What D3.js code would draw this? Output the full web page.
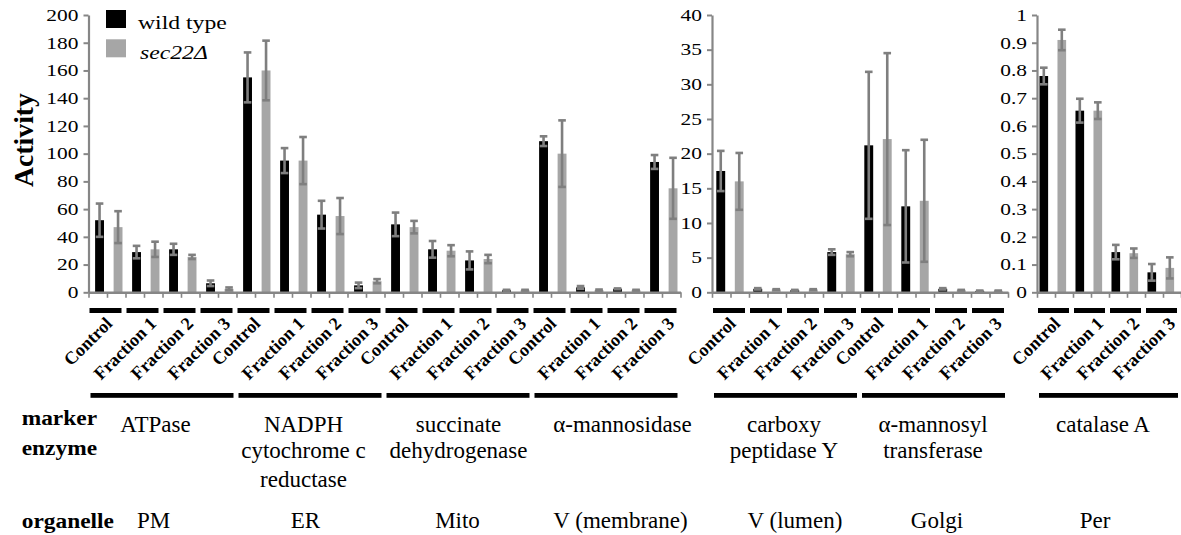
<!DOCTYPE html>
<html><head><meta charset="utf-8">
<script src="https://cdn.jsdelivr.net/npm/d3@7"></script>
<style>
html,body{margin:0;padding:0;background:#fff;}
svg{display:block;}
</style></head>
<body><svg id="chart" width="1181" height="535" font-family="Liberation Serif, Times New Roman, serif"></svg>
<script>
// ---- data ----
const fractions = ["Control", "Fraction 1", "Fraction 2", "Fraction 3"];
const seriesNames = ["wild type", "sec22Δ"];
const enzymeLines = [
  ["ATPase"],
  ["NADPH", "cytochrome c", "reductase"],
  ["succinate", "dehydrogenase"],
  ["α-mannosidase"],
  ["carboxy", "peptidase Y"],
  ["α-mannosyl", "transferase"],
  ["catalase A"]
];
const organelles = ["PM", "ER", "Mito", "V (membrane)", "V (lumen)", "Golgi", "Per"];

// ATPase, NADPH cyt c reductase, succinate DH, α-mannosidase (Control, F1, F2, F3 each)
const wildA    = [52, 29, 31, 6.5,  155, 95, 56, 5,   49, 31, 23, 1.5,  109, 3.5, 2.5, 94];
const wildAErr = [12, 4.5, 4, 2,    18, 9, 10, 2,     8.5, 6, 6.5, 0.3, 3.5, 1, 0.3, 5];
const secA     = [47, 31, 25.5, 2.5, 160, 95, 55, 8,  47, 30, 24, 1.5,  100, 1.5, 1.5, 75];
const secAErr  = [11.5, 5.5, 1.5, 1, 21.5, 17, 13, 1.5, 4.5, 4, 3, 0.3, 24, 0.5, 0.3, 22];

// carboxypeptidase Y, α-mannosyltransferase
const wildB    = [17.5, 0.5, 0.3, 5.8,  21.2, 12.4, 0.5, 0.2];
const wildBErr = [2.9, 0.1, 0.05, 0.4,  10.6, 8.1, 0.1, 0.05];
const secB     = [16, 0.4, 0.4, 5.5,    22.1, 13.2, 0.3, 0.2];
const secBErr  = [4.1, 0.05, 0.05, 0.3, 12.4, 8.8, 0.05, 0.05];

// catalase A
const wildC    = [0.78, 0.655, 0.145, 0.072];
const wildCErr = [0.03, 0.043, 0.026, 0.03];
const secC     = [0.91, 0.655, 0.141, 0.088];
const secCErr  = [0.037, 0.03, 0.017, 0.038];

const ticksA = [0, 20, 40, 60, 80, 100, 120, 140, 160, 180, 200];
const ticksB = [0, 5, 10, 15, 20, 25, 30, 35, 40];
const ticksC = [0, 0.1, 0.2, 0.3, 0.4, 0.5, 0.6, 0.7, 0.8, 0.9, 1];

// ---- layout ----
const svg = d3.select("#chart");
const yTop = 15, yBase = 292.3;
const AXIS = "#868686", ERR = "#7f7f7f", GREY = "#a6a6a6";
const colors = ["#000000", GREY];

const panels = [
  {x0: 88.5, groupW: 37, sets: [0, 1, 2, 3], ticks: ticksA, vals: [wildA, secA], errs: [wildAErr, secAErr], dx: 1.8},
  {x0: 712,  groupW: 37, sets: [4, 5],       ticks: ticksB, vals: [wildB, secB], errs: [wildBErr, secBErr], dx: -0.5},
  {x0: 1037, groupW: 36, sets: [6],          ticks: ticksC, vals: [wildC, secC], errs: [wildCErr, secCErr], dx: -2.2}
];

const setCenters = [];

panels.forEach(p => {
  const n = p.sets.length * fractions.length;
  const x1 = p.x0 + n * p.groupW;
  const gx = d3.scaleBand().domain(d3.range(n)).range([p.x0, x1]).padding(0);
  const sx = d3.scaleBand().domain([0, 1]).range([0, gx.bandwidth()]).paddingInner(0.52).paddingOuter(0.26);
  const y = d3.scaleLinear().domain([0, p.ticks[p.ticks.length - 1]]).range([yBase, yTop]);
  const g = svg.append("g");

  // bars
  [0, 1].forEach(s => {
    g.selectAll(null).data(p.vals[s]).join("rect")
      .attr("x", (d, i) => gx(i) + sx(s) + p.dx)
      .attr("width", sx.bandwidth())
      .attr("y", d => y(d))
      .attr("height", d => yBase - y(d))
      .attr("fill", colors[s]);
  });

  // error bars
  [0, 1].forEach(s => {
    const hi = (d, i) => y(d + p.errs[s][i]);
    const lo = (d, i) => y(Math.max(0, d - p.errs[s][i]));
    const eg = g.selectAll(null).data(p.vals[s]).join("g")
      .attr("transform", (d, i) => `translate(${gx(i) + sx(s) + p.dx + sx.bandwidth() / 2},0)`)
      .attr("stroke", ERR).attr("stroke-width", 2.6);
    eg.append("line").attr("y1", hi).attr("y2", lo);
    eg.append("line").attr("x1", -3.8).attr("x2", 3.8).attr("y1", hi).attr("y2", hi);
    eg.append("line").attr("x1", -3.8).attr("x2", 3.8).attr("y1", lo).attr("y2", lo);
  });

  // y axis
  const ya = g.append("g").attr("transform", `translate(${p.x0},0)`)
    .call(d3.axisLeft(y).tickValues(p.ticks).tickSize(5).tickPadding(5).tickSizeOuter(0).tickFormat(d3.format("~g")));
  ya.attr("font-family", null).attr("font-size", null);
  ya.select(".domain").attr("stroke", AXIS).attr("stroke-width", 2.2);
  ya.selectAll(".tick line").attr("stroke", AXIS).attr("stroke-width", 2);
  ya.selectAll(".tick text")
    .attr("fill", "#000").attr("font-size", 16.5)
    .attr("transform", function () { return `translate(${d3.select(this).attr("x")},0) scale(1.3,1)`; })
    .attr("x", 0);

  // x axis with a tick at each bar slot boundary
  const xs = d3.scaleLinear().domain([0, 2 * n]).range([p.x0, x1]);
  const xa = g.append("g").attr("transform", `translate(0,${yBase})`)
    .call(d3.axisBottom(xs).tickValues(d3.range(2 * n + 1)).tickFormat("").tickSize(5.5).tickSizeOuter(0));
  xa.select(".domain").attr("stroke", AXIS).attr("stroke-width", 2.4);
  xa.selectAll(".tick line").attr("stroke", AXIS).attr("stroke-width", 1.6);

  // short bars and rotated fraction labels
  const cats = d3.range(n).map(i => fractions[i % fractions.length]);
  g.selectAll(null).data(cats).join("rect")
    .attr("x", (d, i) => gx(i) + 1).attr("width", p.groupW - 5)
    .attr("y", 308).attr("height", 5).attr("fill", "#000");

  g.selectAll(null).data(cats).join("text")
    .text(d => d)
    .attr("font-weight", "bold").attr("font-size", 18)
    .attr("text-anchor", "middle").attr("dy", "0.33em")
    .attr("transform", function (d, i) {
      const len = this.getComputedTextLength();
      const cx = gx(i) + p.groupW / 2 - 19;
      const cy = 316 + (len + 12.5) * 0.354;
      return `translate(${cx},${cy}) rotate(-45)`;
    });

  // long bars per enzyme
  p.sets.forEach((s, k) => {
    const a = gx(k * 4), b = gx(k * 4 + 3) + p.groupW;
    g.append("rect").attr("x", a + 2).attr("width", b - a - 5)
      .attr("y", 393).attr("height", 4.8).attr("fill", "#000");
    setCenters[s] = (a + b) / 2;
  });
});

// ---- y title ----
svg.append("text").text("Activity")
  .attr("font-weight", "bold").attr("font-size", 27.7).attr("text-anchor", "middle")
  .attr("transform", "translate(33.3,140) rotate(-90)");

// ---- legend ----
const leg = svg.append("g");
seriesNames.forEach((name, i) => {
  leg.append("rect").attr("x", 106).attr("y", i === 0 ? 10 : 39.3).attr("width", 20).attr("height", 18)
    .attr("fill", colors[i]);
  leg.append("text").text(name)
    .attr("font-size", 18.8).attr("font-style", i === 0 ? "normal" : "italic")
    .attr("transform", `translate(${i === 0 ? 138 : 140},${i === 0 ? 29.3 : 58.6}) scale(1.26,1)`);
});

// ---- marker enzyme / organelle rows ----
const enzymeDx = [-7, -7, 0, 16, -2, -1, -6];
const organelleDx = [-9, -5, -1, 14, 9, 3, -14];
const lineY = [432, 458, 487];

svg.append("text").text("marker").attr("font-weight", "bold").attr("font-size", 20)
  .attr("transform", "translate(21.7,425) scale(1.17,1)");
svg.append("text").text("enzyme").attr("font-weight", "bold").attr("font-size", 20)
  .attr("transform", "translate(21.7,455) scale(1.17,1)");
svg.append("text").text("organelle").attr("font-weight", "bold").attr("font-size", 20)
  .attr("transform", "translate(21.7,528.3) scale(1.17,1)");

enzymeLines.forEach((lines, s) => {
  lines.forEach((t, j) => {
    svg.append("text").text(t).attr("font-size", 23).attr("text-anchor", "middle")
      .attr("x", setCenters[s] + enzymeDx[s]).attr("y", lineY[j]);
  });
});
organelles.forEach((t, s) => {
  svg.append("text").text(t).attr("font-size", 23).attr("text-anchor", "middle")
    .attr("x", setCenters[s] + organelleDx[s]).attr("y", 528.3);
});
</script>
</body></html>
